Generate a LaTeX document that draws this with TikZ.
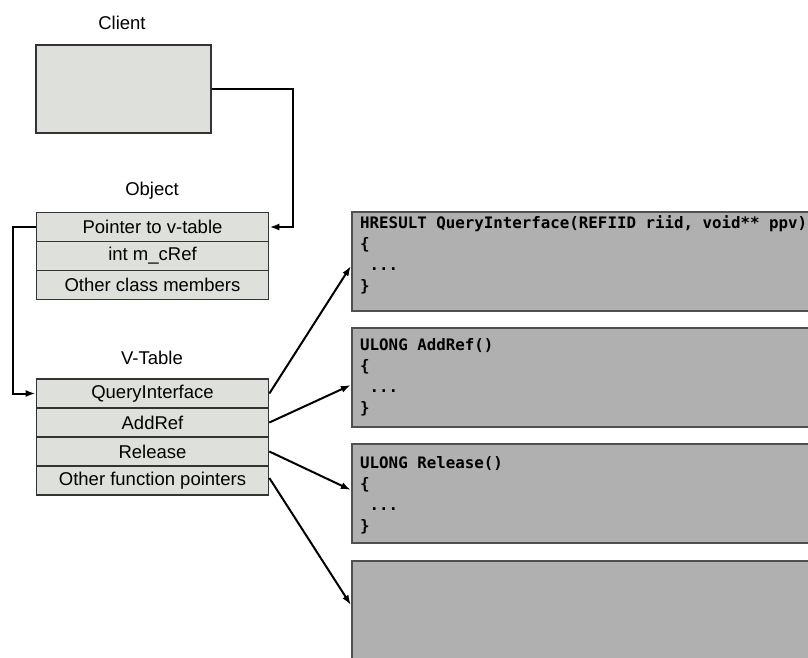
\documentclass[tikz,border=0pt]{standalone}
\usepackage{fontspec}
\setmainfont{Liberation Sans}
\newfontfamily\codefont{DejaVu Sans Mono}
\usetikzlibrary{arrows.meta}
\definecolor{lightfill}{HTML}{DEE0DC}
\definecolor{codefill}{HTML}{B0B0B0}
\definecolor{codeedge}{HTML}{505050}
\tikzset{
  lbl/.style={font=\fontsize{18.5}{22}\selectfont, inner sep=0pt},
  rowbox/.style={draw=black!80, line width=1.7pt, fill=lightfill, minimum width=232pt, minimum height=29pt, inner sep=0pt, font=\fontsize{18.5}{22}\selectfont},
  codebox/.style={draw=codeedge, line width=2.2pt, fill=codefill, inner sep=0pt},
  codetext/.style={anchor=north west, align=left, inner sep=0pt, font=\codefont\bfseries\fontsize{15.8}{21}\selectfont},
  conn/.style={line width=2pt, -{Latex[length=10pt,width=7pt]}},
}
\begin{document}
\begin{tikzpicture}[x=1pt,y=-1pt]
\useasboundingbox (0,0) rectangle (808,657);
\clip (0,0) rectangle (808,657);
% labels
\node[lbl] (clientlbl) at (122,23) {Client};
\node[lbl] (objlbl) at (152,191) {Object};
\node[lbl] (vtlbl) at (152,358) {V-Table};
% client box
\node[draw=black!80, line width=1.7pt, fill=lightfill, minimum width=175pt, minimum height=88pt, inner sep=0pt] (client) at (123.5,89) {};
% object rows
\node[rowbox] (ptr) at (152.5,227) {Pointer to v-table};
\node[rowbox] (mcref) at (152.5,256) {int m\_cRef};
\node[rowbox] (other) at (152.5,285) {Other class members};
% vtable rows
\node[rowbox] (qi) at (152.5,393.5) {QueryInterface};
\node[rowbox] (addref) at (152.5,422.5) {AddRef};
\node[rowbox] (release) at (152.5,451.5) {Release};
\node[rowbox] (otherfn) at (152.5,480.5) {Other function pointers};
% code boxes
\node[codebox, minimum width=470pt, minimum height=99pt] (qbox) at (587,261.5) {};
\node[codebox, minimum width=470pt, minimum height=99pt] (abox) at (587,377.5) {};
\node[codebox, minimum width=470pt, minimum height=99pt] (rbox) at (587,493.5) {};
\node[codebox, minimum width=470pt, minimum height=110pt] (obox) at (587,616) {};
\node[codetext] (qtext) at (360,215) {HRESULT QueryInterface(REFIID riid, void** ppv)\\\{\\\hphantom{x}...\\\}};
\node[codetext] (atext) at (360,338) {ULONG AddRef()\\\{\\\hphantom{x}...\\\}};
\node[codetext] (rtext) at (360,456) {ULONG Release()\\\{\\\hphantom{x}...\\\}};
% connectors
\coordinate (c1) at (293,227);
\coordinate (c2) at (13,227);
\draw[conn] (client.east) -| (c1) -- (ptr.east);
\draw[conn] (ptr.west) -- (c2) |- (qi.west);
\draw[conn] (qi.east) -- ([yshift=-4.5pt]qbox.west);
\draw[conn] (addref.east) -- ([yshift=-7.5pt]abox.west);
\draw[conn] (release.east) -- ([yshift=3.5pt]rbox.west);
\draw[conn] ([yshift=2.5pt]otherfn.east) -- ([yshift=11pt]obox.west);
\end{tikzpicture}
\end{document}
